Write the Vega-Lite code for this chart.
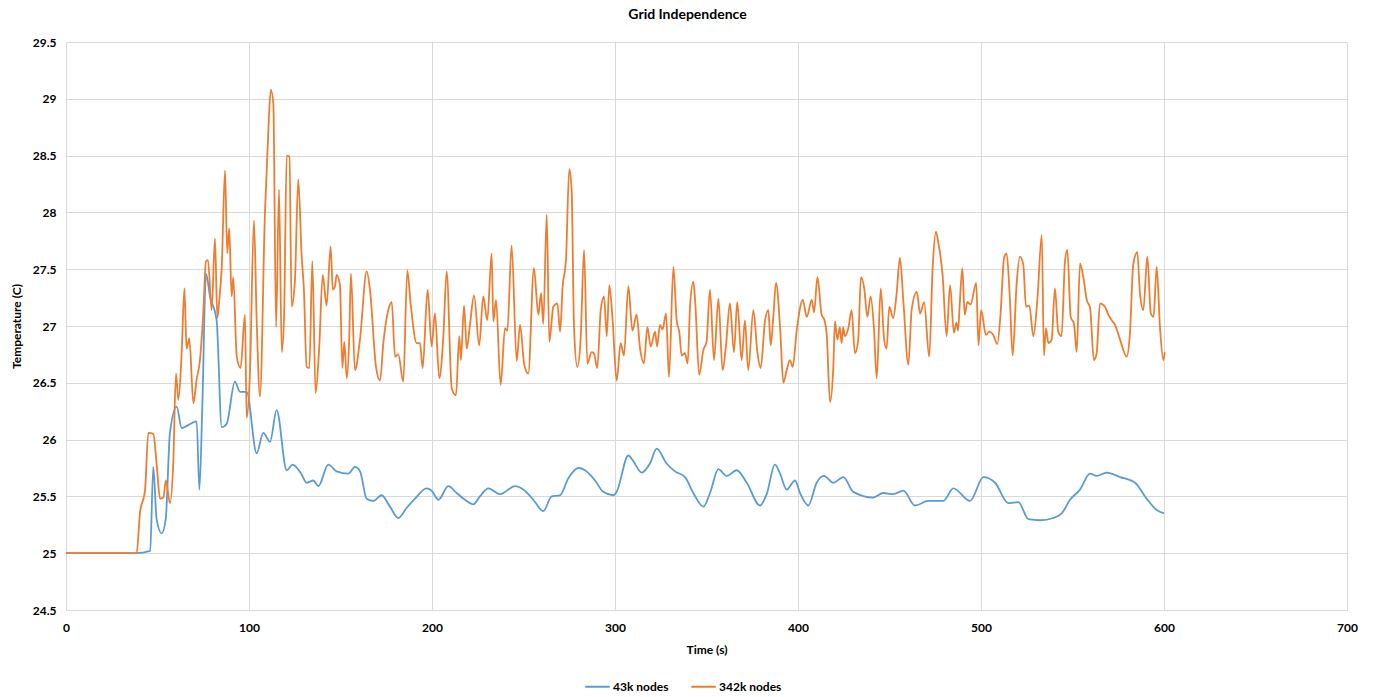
{
  "$schema": "https://vega.github.io/schema/vega-lite/v6.json",
  "autosize": {"type": "none"},
  "width": 1281,
  "height": 568,
  "padding": {"left": 66, "top": 42, "right": 27, "bottom": 87},
  "background": "white",
  "config": {
    "font": "Lato",
    "view": {"stroke": null},
    "axis": {
      "grid": true,
      "gridColor": "#D9D9D9",
      "gridWidth": 1,
      "domain": false,
      "ticks": false,
      "labelFont": "Lato",
      "labelFontSize": 12,
      "labelFontWeight": "bold",
      "labelColor": "#000000",
      "titleFont": "Lato",
      "titleFontSize": 12,
      "titleFontWeight": "bold",
      "titleColor": "#000000"
    }
  },
  "title": {
    "text": "Grid Independence",
    "font": "Lato",
    "fontSize": 14,
    "fontWeight": "bold",
    "color": "#000000",
    "anchor": "middle",
    "dx": -19,
    "offset": 14
  },
  "datasets": {
    "n43": [
      {"t":0,"v":25},{"t":38,"v":25},{"t":46,"v":25.02},{"t":47.7,"v":25.76},{"t":49.5,"v":25.3},{"t":52.3,"v":25.175},{"t":54.5,"v":25.3},{"t":56.8,"v":26.06},{"t":60.5,"v":26.29},{"t":63.2,"v":26.1},{"t":67,"v":26.13},{"t":71.4,"v":26.16},{"t":72.9,"v":25.56},{"t":74.5,"v":26.3},{"t":76.5,"v":27.46},{"t":78.7,"v":27.26},{"t":82.3,"v":27.05},{"t":85.1,"v":26.11},{"t":87.8,"v":26.14},{"t":92.3,"v":26.51},{"t":95.1,"v":26.42},{"t":98.7,"v":26.42},{"t":104.2,"v":25.88},{"t":107.8,"v":26.06},{"t":111.5,"v":25.98},{"t":115.1,"v":26.26},{"t":120.6,"v":25.73},{"t":123.9,"v":25.78},{"t":128.5,"v":25.7},{"t":131.5,"v":25.62},{"t":135.1,"v":25.64},{"t":137.9,"v":25.59},{"t":143.3,"v":25.78},{"t":147.9,"v":25.72},{"t":154.3,"v":25.7},{"t":157.9,"v":25.76},{"t":160.7,"v":25.72},{"t":164.3,"v":25.48},{"t":167.9,"v":25.46},{"t":172.5,"v":25.51},{"t":177,"v":25.41},{"t":181.6,"v":25.31},{"t":186.2,"v":25.4},{"t":190.7,"v":25.48},{"t":197.1,"v":25.57},{"t":199.8,"v":25.55},{"t":203.5,"v":25.47},{"t":208.9,"v":25.59},{"t":213.5,"v":25.53},{"t":218,"v":25.47},{"t":222.6,"v":25.43},{"t":226.2,"v":25.5},{"t":230.8,"v":25.57},{"t":237.2,"v":25.52},{"t":245.4,"v":25.59},{"t":249.9,"v":25.56},{"t":255.4,"v":25.47},{"t":260.8,"v":25.37},{"t":265.4,"v":25.5},{"t":270,"v":25.51},{"t":274.5,"v":25.66},{"t":280,"v":25.75},{"t":283.6,"v":25.73},{"t":289.1,"v":25.64},{"t":293.6,"v":25.54},{"t":299.1,"v":25.51},{"t":300.9,"v":25.54},{"t":307.3,"v":25.86},{"t":310,"v":25.81},{"t":314.6,"v":25.71},{"t":319.1,"v":25.79},{"t":322.8,"v":25.92},{"t":328.2,"v":25.79},{"t":332.8,"v":25.72},{"t":338.3,"v":25.67},{"t":342.8,"v":25.53},{"t":348.3,"v":25.41},{"t":351.9,"v":25.53},{"t":356.5,"v":25.74},{"t":361,"v":25.68},{"t":366.5,"v":25.73},{"t":372,"v":25.62},{"t":379.2,"v":25.42},{"t":382.9,"v":25.52},{"t":387.4,"v":25.78},{"t":390.2,"v":25.7},{"t":393.8,"v":25.56},{"t":398.4,"v":25.64},{"t":401.1,"v":25.53},{"t":405.6,"v":25.42},{"t":410.2,"v":25.62},{"t":414.2,"v":25.68},{"t":419.3,"v":25.62},{"t":424.8,"v":25.67},{"t":430.2,"v":25.54},{"t":441.1,"v":25.49},{"t":446.6,"v":25.53},{"t":452,"v":25.52},{"t":457.6,"v":25.55},{"t":463.9,"v":25.42},{"t":471.2,"v":25.46},{"t":479.4,"v":25.46},{"t":484.9,"v":25.57},{"t":494,"v":25.46},{"t":501.3,"v":25.67},{"t":507.7,"v":25.62},{"t":514.9,"v":25.44},{"t":520.4,"v":25.45},{"t":525.9,"v":25.3},{"t":532.2,"v":25.29},{"t":539.5,"v":25.31},{"t":544.1,"v":25.35},{"t":548.6,"v":25.47},{"t":554.1,"v":25.56},{"t":559.6,"v":25.7},{"t":563.2,"v":25.68},{"t":568.7,"v":25.71},{"t":576,"v":25.67},{"t":584.2,"v":25.62},{"t":590.5,"v":25.48},{"t":596,"v":25.38},{"t":600,"v":25.35}
    ],
    "n342": [
      {"t":0,"v":25},{"t":38.6,"v":25},{"t":40.4,"v":25.35},{"t":43.2,"v":25.56},{"t":45,"v":26.06},{"t":47.7,"v":26.05},{"t":49.5,"v":25.79},{"t":51.4,"v":25.48},{"t":53.2,"v":25.49},{"t":54.6,"v":25.64},{"t":56.8,"v":25.44},{"t":58.6,"v":25.79},{"t":60.1,"v":26.58},{"t":61.4,"v":26.35},{"t":63.2,"v":26.76},{"t":64.7,"v":27.33},{"t":65.9,"v":26.8},{"t":67.4,"v":26.89},{"t":69.6,"v":26.32},{"t":71.4,"v":26.53},{"t":73.2,"v":26.7},{"t":75,"v":27.11},{"t":76.5,"v":27.57},{"t":77.6,"v":27.58},{"t":79.6,"v":27.14},{"t":81.4,"v":27.77},{"t":82.7,"v":27.07},{"t":83.6,"v":27.2},{"t":85.1,"v":27.52},{"t":86.9,"v":28.37},{"t":88.1,"v":27.64},{"t":89.2,"v":27.86},{"t":90.5,"v":27.26},{"t":91.4,"v":27.43},{"t":93.3,"v":26.73},{"t":95.4,"v":26.63},{"t":97.8,"v":27.1},{"t":98.7,"v":26.19},{"t":100.5,"v":26.58},{"t":102.7,"v":27.93},{"t":104.2,"v":27.05},{"t":106,"v":26.38},{"t":108.7,"v":27.99},{"t":110.6,"v":28.73},{"t":111.9,"v":29.08},{"t":113.3,"v":28.96},{"t":114.8,"v":26.99},{"t":116.4,"v":28.2},{"t":117.9,"v":26.77},{"t":119.2,"v":27.11},{"t":120.6,"v":28.5},{"t":122.1,"v":28.49},{"t":123.3,"v":27.17},{"t":125.1,"v":27.4},{"t":126.9,"v":28.29},{"t":128.8,"v":27.61},{"t":130,"v":27.32},{"t":131.5,"v":26.64},{"t":133,"v":26.63},{"t":134.6,"v":27.57},{"t":136.4,"v":26.41},{"t":138.3,"v":26.79},{"t":140.3,"v":27.45},{"t":142.4,"v":27.18},{"t":144.6,"v":27.7},{"t":145.8,"v":27.32},{"t":147,"v":27.35},{"t":147.9,"v":27.45},{"t":149.7,"v":27.36},{"t":151,"v":26.63},{"t":152.1,"v":26.86},{"t":153.4,"v":26.54},{"t":154.7,"v":26.86},{"t":155.7,"v":27.46},{"t":157.9,"v":26.61},{"t":160.7,"v":26.89},{"t":164.3,"v":27.48},{"t":166.1,"v":27.32},{"t":169.4,"v":26.64},{"t":171.6,"v":26.52},{"t":173.4,"v":26.85},{"t":176.1,"v":27.14},{"t":178,"v":27.21},{"t":179.8,"v":26.73},{"t":181.6,"v":26.75},{"t":184.3,"v":26.51},{"t":186.5,"v":27.49},{"t":188.3,"v":27.2},{"t":191.6,"v":26.85},{"t":193.4,"v":26.85},{"t":194.9,"v":26.63},{"t":197.6,"v":27.32},{"t":199.8,"v":26.82},{"t":201.6,"v":27.11},{"t":204,"v":26.54},{"t":206.2,"v":26.91},{"t":208,"v":27.48},{"t":210.8,"v":26.45},{"t":213.1,"v":26.39},{"t":214.9,"v":26.91},{"t":215.8,"v":26.7},{"t":217.5,"v":27.18},{"t":219,"v":26.8},{"t":220.8,"v":27.02},{"t":223,"v":27.27},{"t":225.8,"v":26.83},{"t":228,"v":27.26},{"t":230.2,"v":27.05},{"t":232.6,"v":27.64},{"t":233.5,"v":27.04},{"t":235,"v":27.23},{"t":237.5,"v":26.48},{"t":239.9,"v":26.98},{"t":241.2,"v":26.96},{"t":243.5,"v":27.71},{"t":246.3,"v":26.69},{"t":248.1,"v":27.01},{"t":250.4,"v":26.66},{"t":252.6,"v":26.58},{"t":255.7,"v":27.51},{"t":258.1,"v":27.1},{"t":259.6,"v":27.29},{"t":260.8,"v":27.02},{"t":262.7,"v":27.98},{"t":264.1,"v":26.86},{"t":266.3,"v":27.17},{"t":268.5,"v":27.2},{"t":270,"v":26.95},{"t":271.4,"v":27.35},{"t":273.2,"v":27.58},{"t":275,"v":28.38},{"t":276.3,"v":28.2},{"t":277.6,"v":26.99},{"t":279.4,"v":26.64},{"t":281.2,"v":26.88},{"t":283.1,"v":27.67},{"t":284.9,"v":26.67},{"t":287.3,"v":26.77},{"t":288.5,"v":26.76},{"t":290.3,"v":26.63},{"t":292.2,"v":27.14},{"t":294,"v":27.26},{"t":295.5,"v":26.91},{"t":296.9,"v":27.36},{"t":298.7,"v":27.05},{"t":300.9,"v":26.52},{"t":303.1,"v":26.85},{"t":304.9,"v":26.74},{"t":307.3,"v":27.35},{"t":309.5,"v":26.96},{"t":311.8,"v":27.1},{"t":313.7,"v":26.8},{"t":315.8,"v":26.67},{"t":317.7,"v":26.99},{"t":319.5,"v":26.82},{"t":321.9,"v":26.95},{"t":323,"v":26.82},{"t":324.6,"v":27.01},{"t":326,"v":26.97},{"t":327.9,"v":27.11},{"t":329.5,"v":26.55},{"t":331.9,"v":27.52},{"t":333.7,"v":27.05},{"t":335.2,"v":26.94},{"t":336.4,"v":26.74},{"t":338.2,"v":26.76},{"t":339.7,"v":26.67},{"t":341,"v":27.17},{"t":342.8,"v":27.39},{"t":343.8,"v":27.22},{"t":346,"v":26.57},{"t":348.3,"v":26.79},{"t":350,"v":26.86},{"t":351.9,"v":27.32},{"t":354.1,"v":26.7},{"t":356.5,"v":27.24},{"t":358.8,"v":26.61},{"t":360.6,"v":26.82},{"t":362.8,"v":27.2},{"t":365,"v":26.77},{"t":366.8,"v":27.21},{"t":369.2,"v":26.7},{"t":371,"v":27.05},{"t":372.8,"v":26.61},{"t":375.6,"v":27.14},{"t":377.8,"v":26.77},{"t":379.6,"v":26.63},{"t":382,"v":27.05},{"t":383.8,"v":27.14},{"t":385.1,"v":26.83},{"t":386.5,"v":27.08},{"t":388,"v":27.38},{"t":390.2,"v":26.99},{"t":392,"v":26.5},{"t":393.8,"v":26.61},{"t":395.6,"v":26.7},{"t":397.1,"v":26.64},{"t":399.3,"v":26.96},{"t":402.6,"v":27.23},{"t":404.8,"v":27.08},{"t":407.5,"v":27.23},{"t":408.8,"v":27.12},{"t":410.6,"v":27.43},{"t":412.9,"v":27.1},{"t":414.5,"v":27.05},{"t":415.7,"v":26.92},{"t":417.5,"v":26.33},{"t":419.3,"v":26.64},{"t":420.2,"v":27.04},{"t":421.5,"v":26.88},{"t":422.9,"v":26.99},{"t":423.8,"v":26.85},{"t":424.7,"v":26.99},{"t":425.6,"v":26.91},{"t":427.5,"v":26.98},{"t":429.3,"v":27.14},{"t":431.1,"v":26.76},{"t":432.9,"v":26.88},{"t":434.4,"v":27.43},{"t":436.2,"v":27.33},{"t":437.9,"v":27.08},{"t":439.7,"v":27.26},{"t":441.5,"v":26.98},{"t":443,"v":26.54},{"t":445.2,"v":27.33},{"t":447,"v":26.89},{"t":448.4,"v":26.8},{"t":449.9,"v":27.17},{"t":452,"v":27.07},{"t":453.8,"v":27.27},{"t":455.7,"v":27.6},{"t":457.6,"v":27.21},{"t":460.3,"v":26.66},{"t":462.1,"v":27.14},{"t":464.9,"v":27.3},{"t":466.7,"v":27.11},{"t":468.9,"v":27.21},{"t":471.7,"v":26.73},{"t":473.6,"v":27.52},{"t":475.4,"v":27.83},{"t":476.7,"v":27.73},{"t":479,"v":27.45},{"t":481.2,"v":26.91},{"t":483.1,"v":27.36},{"t":485.2,"v":26.94},{"t":486.6,"v":27.03},{"t":487.5,"v":26.96},{"t":488.3,"v":27.17},{"t":489.8,"v":27.51},{"t":491.1,"v":27.1},{"t":492.5,"v":27.21},{"t":494.3,"v":27.19},{"t":497.4,"v":27.38},{"t":498.6,"v":26.83},{"t":500.1,"v":27.14},{"t":502.7,"v":26.92},{"t":504.5,"v":26.95},{"t":506.7,"v":26.92},{"t":508.9,"v":26.84},{"t":510.7,"v":27.11},{"t":512.6,"v":27.6},{"t":514,"v":27.64},{"t":515.8,"v":27.23},{"t":517.3,"v":26.74},{"t":519.5,"v":27.38},{"t":521.3,"v":27.61},{"t":523.1,"v":27.54},{"t":524.6,"v":27.17},{"t":526.4,"v":27.18},{"t":528.6,"v":26.91},{"t":530.8,"v":27.23},{"t":533.2,"v":27.8},{"t":534.4,"v":26.74},{"t":535.5,"v":26.98},{"t":536.8,"v":26.85},{"t":538.6,"v":26.88},{"t":540.4,"v":27.33},{"t":542.2,"v":26.95},{"t":544,"v":26.91},{"t":545.9,"v":27.57},{"t":547.2,"v":27.67},{"t":549,"v":27.08},{"t":550.8,"v":27.02},{"t":552.3,"v":26.77},{"t":554.1,"v":27.55},{"t":555.9,"v":27.43},{"t":557.8,"v":27.23},{"t":559.6,"v":27.16},{"t":561.7,"v":26.7},{"t":563.2,"v":26.76},{"t":565,"v":27.2},{"t":567.7,"v":27.17},{"t":569.6,"v":27.1},{"t":571.4,"v":27.05},{"t":573.2,"v":27.01},{"t":576,"v":26.88},{"t":579.6,"v":26.73},{"t":581.4,"v":26.94},{"t":583.2,"v":27.54},{"t":585.4,"v":27.65},{"t":586.9,"v":27.28},{"t":588.7,"v":27.14},{"t":590.9,"v":27.61},{"t":592.8,"v":27.11},{"t":594.3,"v":27.08},{"t":596,"v":27.52},{"t":597.8,"v":26.99},{"t":599.6,"v":26.7},{"t":600.4,"v":26.77}
    ]
  },
  "encoding": {
    "x": {
      "field": "t", "type": "quantitative",
      "scale": {"domain": [0, 700], "nice": false, "zero": false},
      "axis": {"values": [0,100,200,300,400,500,600,700], "title": "Time (s)", "labelPadding": 12, "titlePadding": 11, "labelFlush": false}
    },
    "y": {
      "field": "v", "type": "quantitative",
      "scale": {"domain": [24.5, 29.5], "nice": false, "zero": false},
      "axis": {"values": [24.5,25,25.5,26,26.5,27,27.5,28,28.5,29,29.5], "labelExpr": "'' + datum.value", "title": "Temperature (C)", "labelPadding": 10, "titleX": -50, "titleY": 284, "titleAngle": -90, "titleAlign": "center", "titleBaseline": "middle", "labelFlush": false}
    },
    "color": {
      "datum": "43k nodes",
      "type": "nominal",
      "scale": {"domain": ["43k nodes", "342k nodes"], "range": ["#5B9BD5", "#ED7D31"]},
      "legend": {
        "orient": "none",
        "direction": "horizontal",
        "title": null,
        "legendX": 518,
        "legendY": 631,
        "symbolType": "stroke",
        "symbolSize": 600,
        "symbolStrokeWidth": 2,
        "labelFont": "Lato",
        "labelFontSize": 12,
        "labelFontWeight": "bold",
        "labelColor": "#000000",
        "columnPadding": 18,
        "labelOffset": 2
      }
    }
  },
  "layer": [
    {
      "data": {"name": "n43"},
      "mark": {"type": "line", "strokeWidth": 1.8, "interpolate": "monotone"}
    },
    {
      "data": {"name": "n342"},
      "mark": {"type": "line", "strokeWidth": 1.8, "interpolate": "monotone"},
      "encoding": {"color": {"datum": "342k nodes", "type": "nominal"}}
    }
  ]
}
